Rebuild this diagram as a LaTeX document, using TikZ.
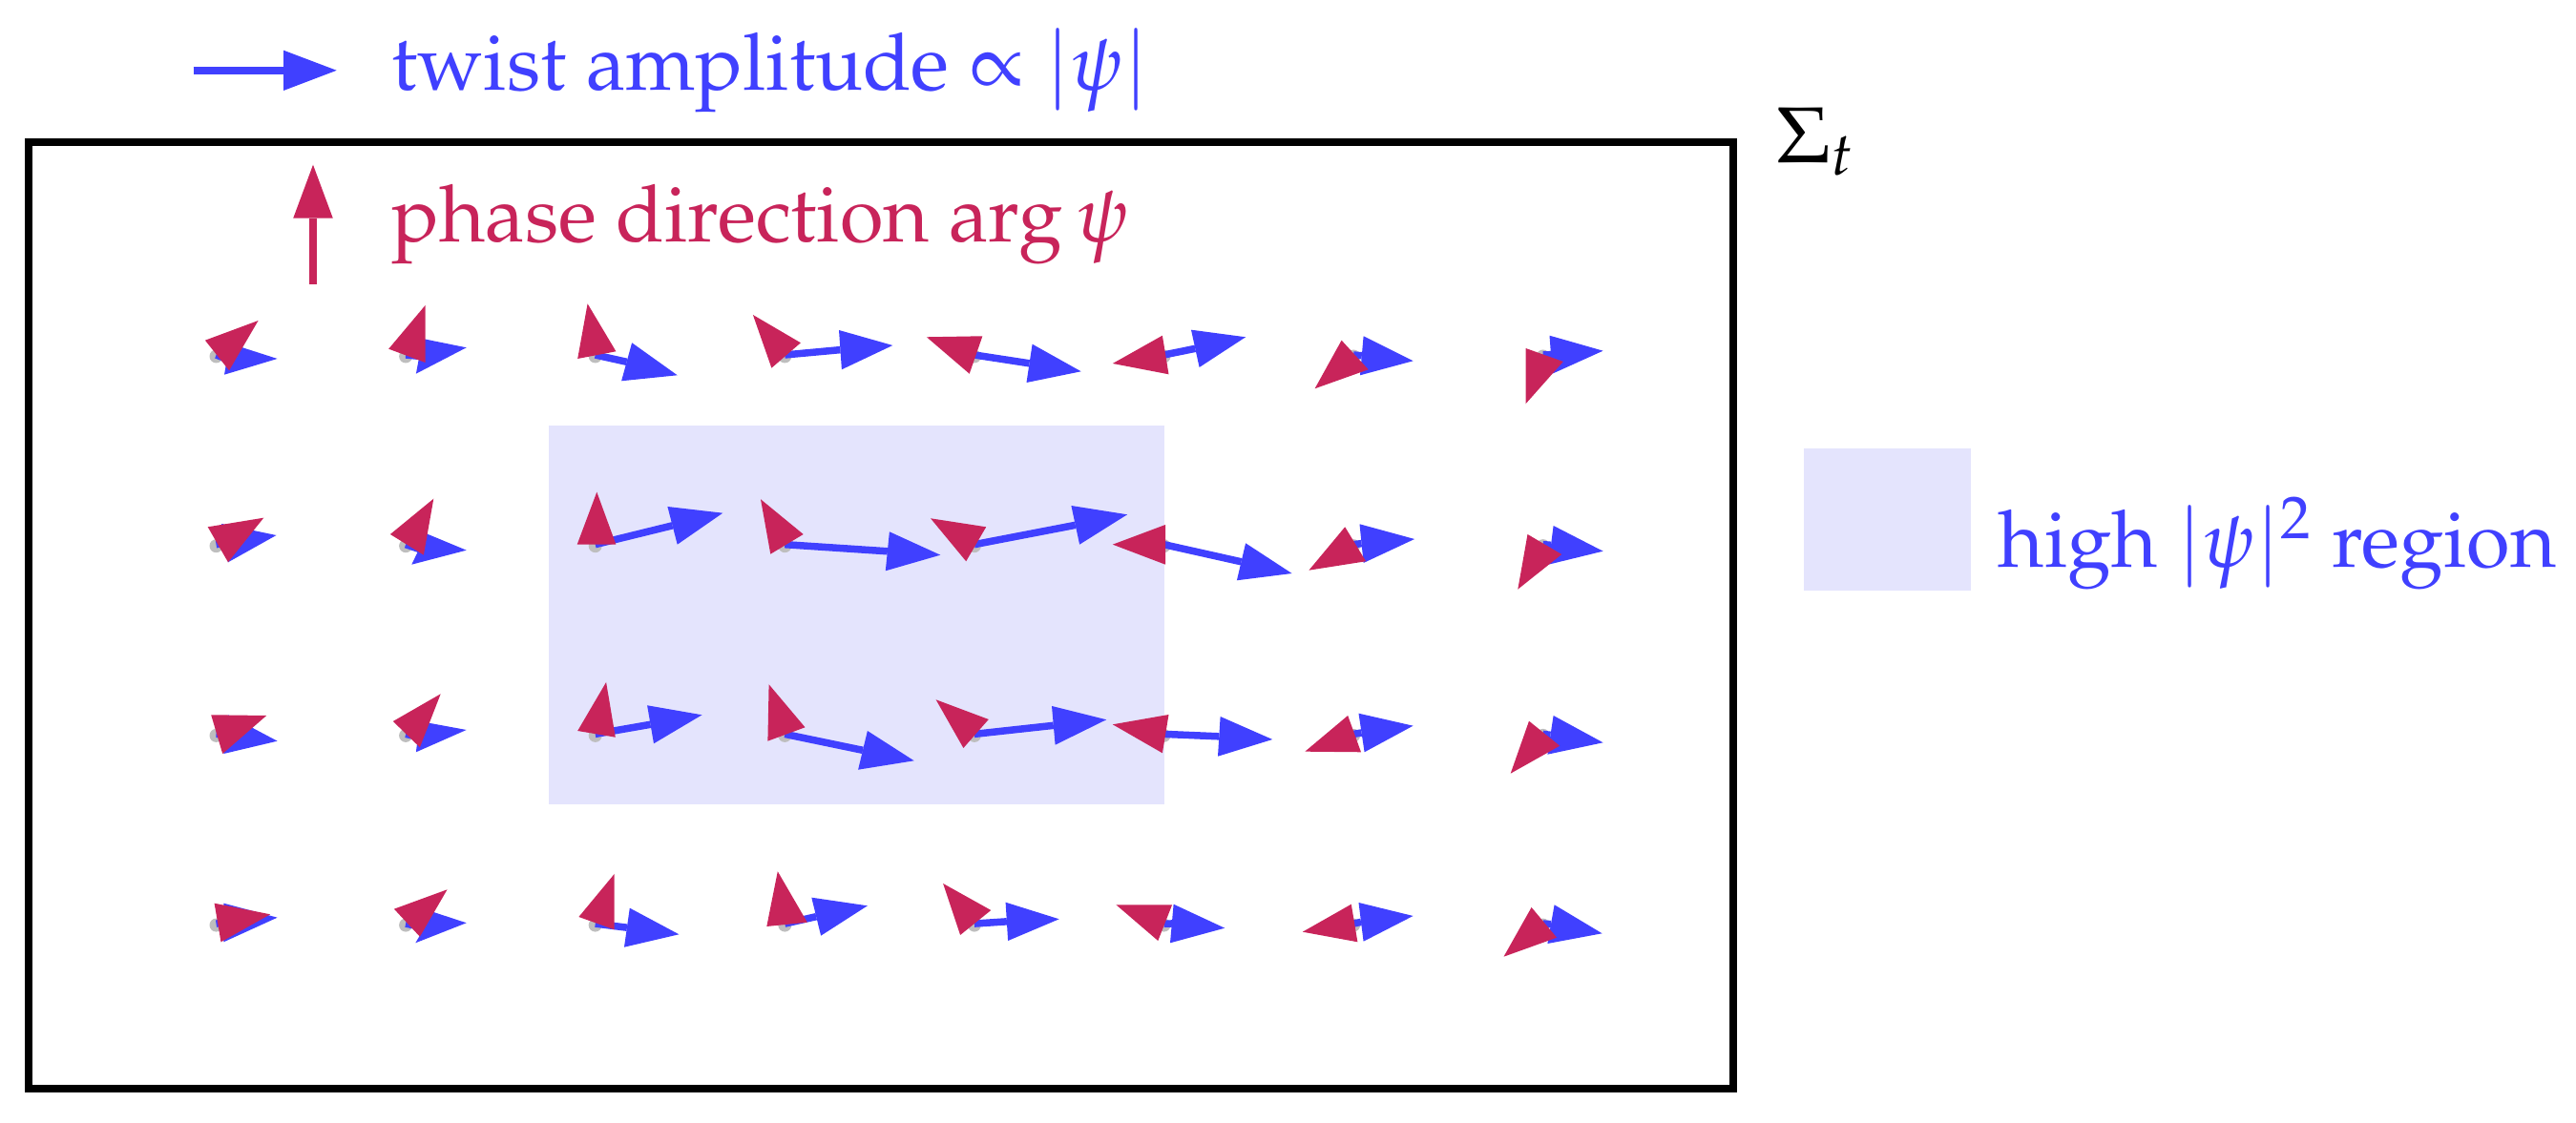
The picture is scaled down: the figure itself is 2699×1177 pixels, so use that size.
\documentclass[tikz,border=0pt]{standalone}
\usepackage[T1]{fontenc}
\usepackage{mathpazo}
\usetikzlibrary{calc}
\definecolor{twblue}{RGB}{64,64,255}
\definecolor{phred}{RGB}{200,36,90}
\definecolor{hibox}{RGB}{228,228,253}
\definecolor{dotgray}{RGB}{190,190,190}
\tikzset{
  lbl/.style={font=\fontsize{23.6}{28}\selectfont, inner sep=0pt, anchor=base west},
  frame/.style={draw=black, line width=0.08cm},
  twshaft/.style={draw=twblue, line width=0.075cm},
  phshaft/.style={draw=phred, line width=0.08cm},
  basedot/.style={fill=dotgray},
}
\newcommand{\TwA}[4]{%
  \draw[twshaft] (#1) -- ($0.5*(#3)+0.5*(#4)$);
  \fill[twblue] (#2) -- (#3) -- (#4) -- cycle;}
\newcommand{\PhH}[3]{\fill[phred] (#1) -- (#2) -- (#3) -- cycle;}
\begin{document}
\begin{tikzpicture}[x=0.01cm,y=-0.01cm]
\useasboundingbox (0,0) rectangle (2699,1177);

% high |psi|^2 region
\fill[hibox] (574.8,445.7) rectangle (1220.4,843.3);

% frame Sigma_t
\draw[frame] (30,149) rectangle (1816,1141);
\node[lbl] (sig) at (1861,170.6) {$\Sigma_t$};

% legend: twist
\coordinate (lbt) at (202.7,73.8);
\coordinate (lbh) at (297,73.8);
\draw[twshaft, line width=0.077cm] (lbt) -- (lbh);
\fill[twblue] (352.7,73.8) -- (297,52.7) -- (297,95) -- cycle;
\node[lbl, text=twblue] (ltw) at (410,95) {twist amplitude $\propto |\psi|$};

% legend: phase
\coordinate (lrt) at (328,297.7);
\coordinate (lrh) at (328,228.7);
\draw[phshaft] (lrt) -- (lrh);
\fill[phred] (328,172.7) -- (307.2,228.7) -- (348.8,228.7) -- cycle;
\node[lbl, text=phred] (lph) at (410,254) {phase direction $\arg\psi$};

% legend: region
\fill[hibox] (1890,470.2) rectangle (2064.8,619.1);
\node[lbl, text=twblue] (lhi) at (2093,595) {high $|\psi|^2$ region};

% base points
\foreach \j in {1,...,4}{
  \foreach \i in {1,...,8}{
    \coordinate (p\j\i) at ({226.5+198.6*(\i-1)},{372+198.7*(\j-1)});
    \fill[basedot] ($(p\j\i)+(0,1.5)$) circle (7);
  }
}

% twist arrows (blue)
\TwA{p11}{290.6,376}{235,392.7}{240.7,360}
\TwA{p12}{488.7,364.3}{435.9,391.7}{442.8,355}
\TwA{p13}{709.7,393.3}{651.1,399.3}{662.1,359.3}
\TwA{p14}{935.3,362}{881.9,387.3}{879,346}
\TwA{p15}{1132.7,389.3}{1081.6,360.7}{1075.5,401}
\TwA{p16}{1305.1,353.3}{1248,345.7}{1256.6,385}
\TwA{p17}{1480.6,378.3}{1428.6,352.3}{1425,393.3}
\TwA{p18}{1679.6,367.7}{1623.5,351.7}{1626.5,391.7}
\TwA{p21}{289.5,561}{232.1,549}{239,589.3}
\TwA{p22}{488.7,576.7}{431.3,591.7}{446.8,559.3}
\TwA{p23}{757.3,537.7}{699.4,531}{709.7,570.7}
\TwA{p24}{985.3,581.7}{931.9,557.3}{927.8,598.3}
\TwA{p25}{1181.1,539.3}{1122.4,530}{1131.1,570.7}
\TwA{p26}{1353.6,601}{1305.1,569.3}{1295.9,608.3}
\TwA{p27}{1482.1,565}{1424.5,549.3}{1428.6,590}
\TwA{p28}{1679.6,577.7}{1627.6,551}{1622.4,591.7}
\TwA{p31}{290.6,776.7}{239,749.3}{234.4,790}
\TwA{p32}{488.7,765}{439.9,756}{435.9,788.3}
\TwA{p33}{735.5,749.3}{678.1,739.3}{685,779.3}
\TwA{p34}{957.7,797.3}{908.9,766}{899.1,806.7}
\TwA{p35}{1159.2,754.3}{1102,740}{1105.6,780.7}
\TwA{p36}{1333.2,775}{1278.6,751}{1276,792.7}
\TwA{p37}{1480.6,760.7}{1423.5,747.7}{1429.6,788.3}
\TwA{p38}{1679.6,778.3}{1627.6,750}{1621.4,790.7}
\TwA{p41}{290.6,961.7}{234.4,946.7}{234.4,987.3}
\TwA{p42}{488.7,967.3}{454.3,956}{435.3,988.3}
\TwA{p43}{711.4,979.3}{659.8,951.7}{654,992.7}
\TwA{p44}{908.9,949.3}{850.3,940.7}{860.1,980.7}
\TwA{p45}{1109.7,963.3}{1053.6,945.7}{1056.1,986}
\TwA{p46}{1283.2,972.7}{1229.6,947.7}{1226,988.3}
\TwA{p47}{1480.6,960}{1423.5,946}{1428.6,986.7}
\TwA{p48}{1678.6,978.3}{1628.6,948.3}{1621.4,989}

% phase heads (red)
\PhH{270.6,336}{214.9,356.7}{240.1,388.3}
\PhH{445.6,320}{407.2,365.7}{445.6,380}
\PhH{615.6,318.3}{605.2,376}{645.4,368.3}
\PhH{788.9,330}{808.4,385.7}{838.9,359.3}
\PhH{970.9,353.3}{1029.4,352.3}{1015.7,391.7}
\PhH{1165.8,381}{1217.9,351.7}{1224.5,392.3}
\PhH{1377.6,407.3}{1405.6,356.7}{1433.7,387.3}
\PhH{1598.5,423.3}{1598.5,365}{1637.8,379}
\PhH{276.3,542.7}{217.7,552.3}{239,589.3}
\PhH{454.3,522.7}{408.9,560}{443.9,581.7}
\PhH{625.3,515.7}{604.7,570.7}{645.4,570.7}
\PhH{797,523.3}{807.3,580.7}{841.7,560}
\PhH{975,543.3}{1033.2,552.3}{1012.2,588.3}
\PhH{1165.8,570.7}{1221,550}{1221,591.7}
\PhH{1371.4,597.7}{1409.2,552.3}{1431.1,588.3}
\PhH{1590.3,617.7}{1600.5,560}{1636.2,581}
\PhH{279.2,750}{221.2,749.3}{233.2,790}
\PhH{461.7,727.3}{411.8,756}{439.9,783.3}
\PhH{635.1,715}{605.2,766}{644.8,772.7}
\PhH{805.6,717.3}{804.4,776.7}{843.5,762.3}
\PhH{980.6,733.3}{1035.8,754}{1009.4,784}
\PhH{1165.8,759.3}{1224.5,749}{1217.9,789.3}
\PhH{1367.3,787.7}{1412.2,750}{1426,788.3}
\PhH{1582.7,810.7}{1602,755.7}{1634.2,781.7}
\PhH{283.2,958.3}{224.6,946.7}{231.5,987.3}
\PhH{468.6,932.3}{412.9,952.7}{439.9,981.7}
\PhH{643.7,916}{606.4,961}{643.7,974.3}
\PhH{814.8,913.3}{803.3,971}{845.8,966.7}
\PhH{988.1,926}{1038.3,954}{1006.1,980}
\PhH{1169.4,948.3}{1228.1,948.3}{1213.3,986}
\PhH{1364.8,976.7}{1415.8,947.7}{1422.4,987.3}
\PhH{1575.5,1002.7}{1604.6,951}{1631.1,982.7}
\end{tikzpicture}
\end{document}
